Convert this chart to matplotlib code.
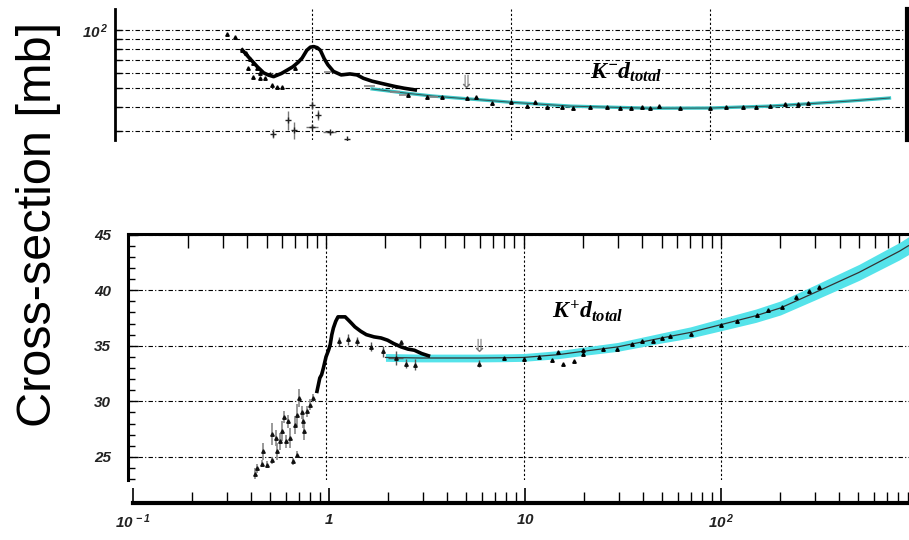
import numpy as np
import matplotlib
matplotlib.use('Agg')
import matplotlib.pyplot as plt
from matplotlib.ticker import FixedLocator, NullFormatter, LogLocator

plt.rcParams['font.family'] = ['Liberation Sans', 'DejaVu Sans']
plt.rcParams['mathtext.fontset'] = 'custom'
plt.rcParams['mathtext.rm'] = 'Liberation Serif:italic:bold'
plt.rcParams['mathtext.it'] = 'Liberation Serif:italic:bold'
plt.rcParams['mathtext.bf'] = 'Liberation Serif:italic:bold'
plt.rcParams['mathtext.sf'] = 'Liberation Sans:italic:bold'

# ---- K- d total (upper panel) ----
km_x = [0.445, 0.49, 0.53, 0.57, 0.60, 0.64, 0.70, 0.75, 0.80, 0.85, 0.89, 0.94, 0.98,
        1.02, 1.06, 1.10, 1.15, 1.20, 1.28, 1.40, 1.55, 1.68, 1.81, 2.0, 2.3, 2.6, 2.9, 3.3]
km_y = [78.8, 70.5, 64.5, 60.0, 58.5, 57.3, 59.5, 62.0, 64.5, 68.0, 71.5, 78.5, 81.5,
        82.0, 81.0, 78.5, 71.0, 66.0, 61.0, 58.5, 59.2, 58.5, 56.2, 54.3, 52.5, 51.0, 49.9, 48.9]
km_tri_x = [0.374, 0.41, 0.445, 0.466, 0.488, 0.505, 0.477, 0.53, 0.548, 0.505, 0.548,
            0.58, 0.615, 0.63, 0.667, 0.707, 0.82]
km_tri_y = [95.3, 92.0, 78.8, 76.0, 70.7, 67.5, 63.5, 63.5, 60.0, 57.1, 56.4,
            56.4, 59.2, 52.0, 50.6, 50.6, 63.5]
km_hi_x = [3.03, 3.78, 4.5, 6.0, 6.66, 8.0, 10.0, 12.0, 13.2, 15.1, 18.0, 20.4, 24.9, 30.3,
           35.3, 40.3, 45.4, 50.1, 55.2, 70.5, 100, 121, 147, 170, 200, 238, 278, 312]
km_hi_y = [46.0, 45.0, 44.8, 44.3, 45.1, 42.0, 42.5, 40.4, 42.5, 40.0, 40.0, 39.3, 39.9, 39.9,
           39.3, 39.3, 39.9, 39.3, 40.6, 39.3, 39.3, 39.9, 39.7, 39.9, 40.2, 41.1, 41.4, 41.9]
km_bar_x = [1.22, 1.95, 2.6, 2.9, 4.06]
km_bar_y = [60.6, 51.3, 47.7, 46.0, 45.0]
km_bar_xerr = [0.07, 0.12, 0.15, 0.16, 0.22]
km_lo_x = [0.635, 0.76, 0.815, 1.0, 1.075, 1.0, 1.23, 1.49]
km_lo_y = [29.0, 34.2, 30.3, 40.9, 36.3, 31.6, 29.5, 27.1]
km_lo_yerr = [1.5, 4.0, 3.0, 2.0, 2.0, 0.5, 0.5, 0.2]
km_lo_xerr = [0, 0, 0, 0, 0, 0.07, 0.09, 0]
km_fit_x = [2.0, 3.0, 4.0, 6.0, 8.0, 10, 20, 50, 100, 200, 330, 500, 800]
km_fit_y = [49.5, 47.0, 45.5, 44.0, 43.0, 42.2, 40.3, 39.3, 39.4, 40.3, 41.6, 42.8, 44.4]
km_arrow = (5.95, 47.7)

# ---- K+ d total (lower panel) ----
kp_x = [0.90, 0.93, 0.95, 0.97, 1.0, 1.03, 1.05, 1.07, 1.09, 1.12, 1.15, 1.20, 1.25, 1.30,
        1.35, 1.40, 1.50, 1.60, 1.75, 1.90, 2.05, 2.20, 2.40, 2.60, 2.80, 3.05, 3.30]
kp_y = [30.9, 32.1, 32.4, 33.0, 34.0, 34.6, 35.1, 36.0, 36.6, 37.2, 37.6, 37.6, 37.6, 37.3,
        37.0, 36.7, 36.3, 36.0, 35.8, 35.7, 35.5, 35.2, 34.9, 34.7, 34.6, 34.3, 34.1]
kp_lo_x = [0.437, 0.449, 0.473, 0.481, 0.50, 0.53, 0.53, 0.558, 0.563, 0.585, 0.597, 0.613, 0.627,
           0.644, 0.657, 0.678, 0.697, 0.71, 0.716, 0.733, 0.753, 0.767, 0.774, 0.80, 0.83, 0.862]
kp_lo_y = [23.5, 24.0, 24.4, 25.5, 24.3, 27.1, 24.7, 26.7, 25.5, 26.4, 27.3, 28.6, 26.4,
           28.2, 26.7, 24.6, 27.9, 28.8, 25.2, 30.3, 29.0, 28.2, 27.3, 29.1, 29.7, 30.3]
kp_lo_err = [0.5, 0.4, 0.3, 0.8, 0.3, 1.0, 0.3, 0.7, 0.8, 0.8, 0.9, 0.5, 0.6,
             0.6, 0.9, 0.3, 0.8, 1.0, 0.3, 0.8, 0.6, 0.6, 0.8, 0.5, 0.5, 0.4]
kp_mid_x = [1.17, 1.29, 1.43, 1.69, 1.95, 2.26, 2.54, 2.82, 2.4, 5.97]
kp_mid_y = [35.4, 35.6, 35.4, 34.9, 34.5, 33.9, 33.4, 33.3, 35.3, 33.4]
kp_mid_err = [0.4, 0.5, 0.4, 0.4, 0.5, 0.6, 0.4, 0.5, 0.2, 0.3]
kp_mid_xerr = [0, 0, 0, 0, 0, 0.2, 0, 0, 0, 0]
kp_hi_x = [7.97, 10, 12.0, 13.9, 15.0, 15.9, 18.0, 19.9, 19.9, 25.4, 29.9, 35.3, 40, 45.2,
           50.3, 55.4, 70.3, 100, 120, 153, 172, 204, 241, 280, 313]
kp_hi_y = [33.9, 33.8, 33.95, 33.7, 34.4, 33.4, 33.6, 34.25, 34.6, 34.7, 34.7, 35.2, 35.45, 35.45,
           35.7, 35.9, 36.1, 36.9, 37.25, 37.8, 38.2, 38.45, 39.4, 39.9, 40.25]
kp_fit_x = [2.0, 3, 4, 6, 8, 10, 15, 20, 30, 50, 70, 100, 150, 200, 300, 500, 800, 890]
kp_fit_y = [33.95, 33.9, 33.9, 33.9, 33.92, 33.95, 34.2, 34.5, 34.9, 35.7, 36.2, 36.9, 37.7,
            38.4, 39.8, 41.6, 43.5, 44.0]
kp_fit_err = [0.35, 0.35, 0.35, 0.35, 0.35, 0.35, 0.36, 0.37, 0.4, 0.45, 0.5, 0.55, 0.6,
              0.63, 0.67, 0.72, 0.78, 0.8]
kp_arrow = (5.95, 34.1)

W, H = 909, 540
fig = plt.figure(figsize=(W/100, H/100), dpi=100)

def frac(l, t, r, b):
    return [l/W, 1-b/H, (r-l)/W, (b-t)/H]

grid_h = dict(color='k', lw=0.8, ls=(0, (4, 2, 1, 2)))
grid_v = dict(color='k', lw=0.8, ls=(0, (2, 2)))
tickfont = dict(fontsize=11, color='#222222', style='italic', weight='bold')

# upper panel
ax1 = fig.add_axes(frac(115, 9, 907, 140))
ax1.set_xscale('log'); ax1.set_yscale('log')
ax1.set_xlim(0.102, 980); ax1.set_ylim(26.9, 128.5)
ax1.plot(km_fit_x, km_fit_y, color='#3cc8c8', lw=2.4, zorder=2)
ax1.plot(km_fit_x, km_fit_y, color='#335555', lw=0.7, zorder=3)
ax1.plot(km_x, km_y, color='k', lw=2.6, zorder=4)
ax1.plot(km_tri_x, km_tri_y, '^', color='k', ms=2.5, zorder=4)
ax1.plot(km_hi_x, km_hi_y, '^', color='k', ms=2.5, zorder=4)
ax1.errorbar(km_bar_x, km_bar_y, xerr=km_bar_xerr, fmt='none', ecolor='#888888', lw=1.2, zorder=3)
ax1.errorbar(km_lo_x, km_lo_y, yerr=km_lo_yerr, xerr=km_lo_xerr, fmt='+', color='#222222',
             ecolor='#777777', ms=4, lw=1.0, zorder=3)
ax1.text(km_arrow[0], km_arrow[1], '\u21d3', ha='center', va='bottom', fontsize=13,
         color='#777777', family='DejaVu Sans')
ax1.text(24.9, 60, r'$K^{-}d_{total}$', fontsize=17, ha='left', va='center')
ax1.yaxis.set_major_locator(FixedLocator([30, 40, 50, 60, 70, 80, 90, 100]))
ax1.yaxis.set_minor_locator(FixedLocator([]))
ax1.set_yticklabels(['', '', '', '', '', '', '', r'$\mathsf{10^{\,2}}$'], **tickfont)
ax1.xaxis.set_major_locator(FixedLocator([1, 10, 100]))
ax1.xaxis.set_minor_locator(FixedLocator([]))
ax1.tick_params(axis='x', bottom=False, labelbottom=False)
ax1.tick_params(axis='y', direction='in', length=5, width=1, pad=5)
ax1.yaxis.grid(True, **grid_h)
ax1.xaxis.grid(True, **grid_v)
for s in ['top', 'bottom']:
    ax1.spines[s].set_visible(False)
ax1.spines['left'].set_linewidth(2.0)
ax1.spines['right'].set_linewidth(3.0)

# lower panel
ax2 = fig.add_axes(frac(128, 234, 909, 480))
ax2.set_xscale('log')
ax2.set_xlim(0.0994, 895); ax2.set_ylim(22.93, 45.05)
kp_fit_y = np.array(kp_fit_y); kp_fit_err = np.array(kp_fit_err)
ax2.fill_between(kp_fit_x, kp_fit_y - kp_fit_err, kp_fit_y + kp_fit_err,
                 color='#55e3ea', lw=0, zorder=2)
ax2.plot(kp_fit_x, kp_fit_y, color='#333333', lw=0.9, zorder=3)
ax2.errorbar(kp_lo_x, kp_lo_y, yerr=kp_lo_err, fmt='^', color='#111111', ecolor='#888888',
             ms=2.5, lw=1.2, zorder=4)
ax2.plot(kp_x, kp_y, color='k', lw=2.6, zorder=4)
ax2.errorbar(kp_mid_x, kp_mid_y, yerr=kp_mid_err, xerr=kp_mid_xerr, fmt='^', color='#111111',
             ecolor='#555555', ms=2.5, lw=1.0, zorder=4)
ax2.plot(kp_hi_x, kp_hi_y, '^', color='k', ms=2.5, zorder=4)
ax2.text(kp_arrow[0], kp_arrow[1], '\u21d3', ha='center', va='bottom', fontsize=13,
         color='#777777', family='DejaVu Sans')
ax2.text(13.9, 38.1, r'$K^{+}d_{total}$', fontsize=17, ha='left', va='center')
ax2.yaxis.set_major_locator(FixedLocator([25, 30, 35, 40, 45]))
ax2.yaxis.set_minor_locator(FixedLocator(list(range(23, 46))))
ax2.set_yticklabels(['25', '30', '35', '40', '45'], **tickfont)
ax2.xaxis.set_major_locator(FixedLocator([1, 10, 100]))
ax2.xaxis.set_minor_locator(LogLocator(base=10, subs=np.arange(2, 10)))
ax2.xaxis.set_minor_formatter(NullFormatter())
ax2.tick_params(axis='x', which='both', bottom=False, top=True, labelbottom=False,
                direction='in', length=10, width=1)
ax2.tick_params(axis='y', which='major', direction='in', length=7, width=1, pad=12)
ax2.tick_params(axis='y', which='minor', direction='in', length=5, width=1)
ax2.yaxis.grid(True, which='major', **grid_h)
ax2.xaxis.grid(True, which='major', **grid_v)
for s in ['right', 'bottom']:
    ax2.spines[s].set_visible(False)
ax2.spines['left'].set_linewidth(2.2)
ax2.spines['top'].set_linewidth(2.2)

# bottom x axis
ax3 = fig.add_axes(frac(133, 493, 909, 503))
ax3.set_xscale('log')
ax3.set_xlim(0.1, 910)
ax3.set_yticks([])
ax3.xaxis.set_major_locator(FixedLocator([0.1, 1, 10, 100]))
ax3.xaxis.set_minor_locator(LogLocator(base=10, subs=np.arange(2, 10)))
ax3.xaxis.set_minor_formatter(NullFormatter())
ax3.set_xticklabels([r'$\mathsf{10^{\,-1}}$', r'$\mathsf{1}$', r'$\mathsf{10}$',
                     r'$\mathsf{10^{\,2}}$'], **tickfont)
ax3.tick_params(axis='x', which='major', direction='in', length=11, width=1.2, pad=7)
ax3.tick_params(axis='x', which='minor', direction='in', length=8, width=1)
for s in ['top', 'left', 'right']:
    ax3.spines[s].set_visible(False)
ax3.spines['bottom'].set_linewidth(3.0)
ax3.patch.set_alpha(0)

fig.text(0.042, 0.585, 'Cross-section [mb]', rotation=90, fontsize=35,
         ha='center', va='center')

fig.savefig('out.png', dpi=100)
